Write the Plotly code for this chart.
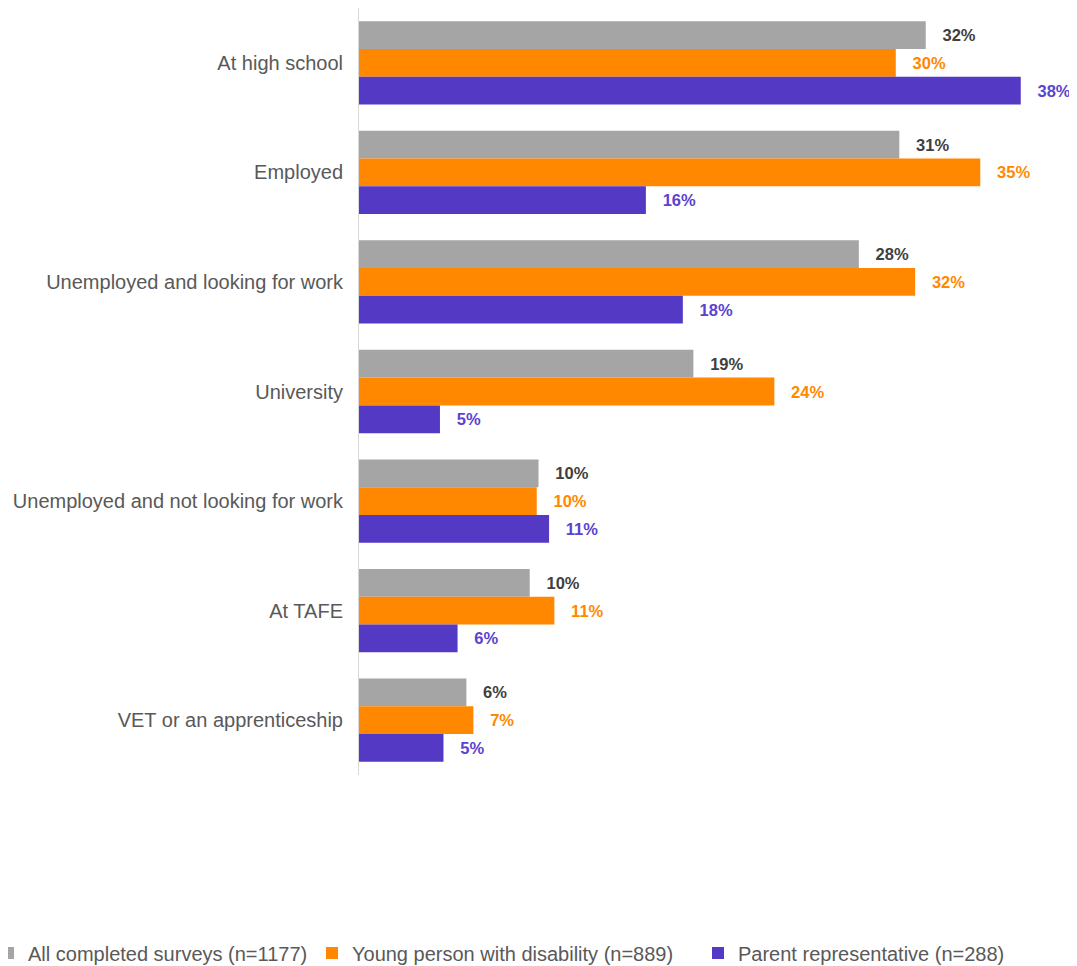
import plotly.graph_objects as go

categories = ["At high school", "Employed", "Unemployed and looking for work", "University",
              "Unemployed and not looking for work", "At TAFE", "VET or an apprenticeship"]

series_names = ["All completed surveys (n=1177)", "Young person with disability (n=889)",
                "Parent representative (n=288)"]

all_values = [32.2, 30.7, 28.4, 19.0, 10.2, 9.7, 6.1]
all_labels = ["32%", "31%", "28%", "19%", "10%", "10%", "6%"]

young_values = [30.5, 35.3, 31.6, 23.6, 10.1, 11.1, 6.5]
young_labels = ["30%", "35%", "32%", "24%", "10%", "11%", "7%"]

parent_values = [37.6, 16.3, 18.4, 4.6, 10.8, 5.6, 4.8]
parent_labels = ["38%", "16%", "18%", "5%", "11%", "6%", "5%"]

bar_colors = ["#A5A5A5", "#FF8800", "#5339C4"]
label_colors = ["#404040", "#FF8800", "#5B42D0"]
legend_ids = ["legend", "legend2", "legend3"]

W, H = 1069, 958
ML, MR, MT, MB = 351, 14, 0, 191
plot_w = W - ML - MR

fig = go.Figure()
for name, vals, labs, bc, lc, lg in zip(series_names,
                                        [all_values, young_values, parent_values],
                                        [all_labels, young_labels, parent_labels],
                                        bar_colors, label_colors, legend_ids):
    fig.add_trace(go.Bar(
        y=categories, x=vals, name=name, orientation="h",
        marker=dict(color=bc, line=dict(width=0)),
        text=["   " + t for t in labs], textposition="outside",
        textfont=dict(family="Liberation Sans", size=16.5, color=lc, weight="bold"),
        cliponaxis=False, legend=lg,
    ))

leg_common = dict(orientation="h", xref="paper", xanchor="left",
                  yref="container", y=13 / H, yanchor="middle",
                  font=dict(size=20, color="#595959"), itemwidth=30,
                  bgcolor="rgba(0,0,0,0)")

fig.update_layout(
    width=W, height=H,
    barmode="group", bargap=0.24, bargroupgap=0,
    plot_bgcolor="white", paper_bgcolor="white",
    margin=dict(l=ML, r=MR, t=MT, b=MB, autoexpand=False),
    font=dict(family="Liberation Sans", color="#595959"),
    xaxis=dict(range=[0, 40], visible=False, showgrid=False),
    yaxis=dict(autorange="reversed", showline=True, linecolor="#D9D9D9", linewidth=1,
               ticks="", ticklabelstandoff=11, tickfont=dict(size=20, color="#595959"),
               showgrid=False, automargin=False),
    showlegend=True,
    legend=dict(x=(-20 - ML) / plot_w, **leg_common),
    legend2=dict(x=(304 - ML) / plot_w, **leg_common),
    legend3=dict(x=(690 - ML) / plot_w, **leg_common),
)

fig.write_html("out.html")
